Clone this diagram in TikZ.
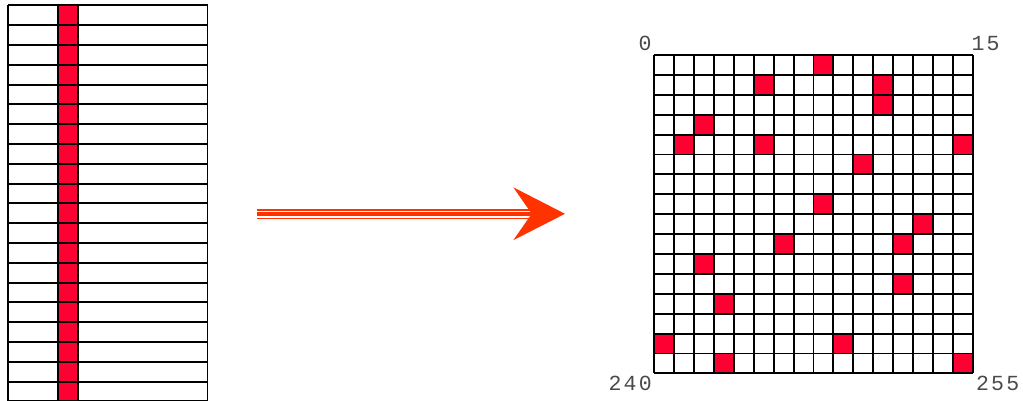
\documentclass[tikz,border=0pt]{standalone}
\usepackage{fontspec}
\newfontfamily\labfont[LetterSpace=10]{Liberation Mono}
\definecolor{cellred}{HTML}{FF0033}
\definecolor{arrowred}{HTML}{FF3300}
\definecolor{labgray}{HTML}{4A4A4A}
\begin{document}
\begin{tikzpicture}[x=1pt,y=-1pt,
  gridline/.style={draw=black,line width=1.9pt},
  redcell/.style={fill=cellred},
  lab/.style={font=\labfont\fontsize{21.5}{24}\selectfont,text=labgray,inner sep=0pt,anchor=base},
  shaftthin/.style={draw=arrowred,line width=1.7pt},
  shaftthick/.style={draw=arrowred,line width=3.7pt}]
\useasboundingbox (0,0) rectangle (1023,400);
% left strip
\fill[redcell] (58.3,5.4) rectangle (78.3,401.4);
\foreach \i in {0,...,20}{
  \draw[gridline] (8.3,5.4+19.8*\i) -- (207.5,5.4+19.8*\i);
}
\foreach \x in {8.3,58.3,78.3,207.5}{
  \draw[gridline] (\x,5.4) -- (\x,401.4);
}
% arrow
\coordinate (as) at (256.7,214.1);
\coordinate (ae) at (532,214.1);
\coordinate (tip) at (565,213.8);
\draw[shaftthin] ([yshift=4.3pt]as) -- ([yshift=4.3pt]ae);
\draw[shaftthick] (as) -- (ae);
\draw[shaftthin] ([yshift=-4.3pt]as) -- ([yshift=-4.3pt]ae);
\fill[arrowred] (tip) -- (513.3,187.3) -- (531.7,213.8) -- (513.3,240.2) -- cycle;
% grid
\begin{scope}[shift={(654.3,55)}]
\foreach \r/\c in {0/8,1/5,1/11,2/11,3/2,4/1,4/5,4/15,5/10,7/8,8/13,9/6,9/12,10/2,11/12,12/3,14/0,14/9,15/3,15/15}{
  \fill[redcell] (19.9*\c,19.9*\r) rectangle (19.9*\c+19.9,19.9*\r+19.9);
}
\foreach \i in {0,...,16}{
  \draw[gridline] (19.9*\i,0) -- (19.9*\i,318.4);
  \draw[gridline] (0,19.9*\i) -- (318.4,19.9*\i);
}
\end{scope}
% labels
\node[lab] (l0) at (645,50.7) {0};
\node[lab] (l15) at (985.5,50.7) {15};
\node[lab] (l240) at (630.2,390.7) {240};
\node[lab] (l255) at (997.7,390.7) {255};
\end{tikzpicture}
\end{document}
